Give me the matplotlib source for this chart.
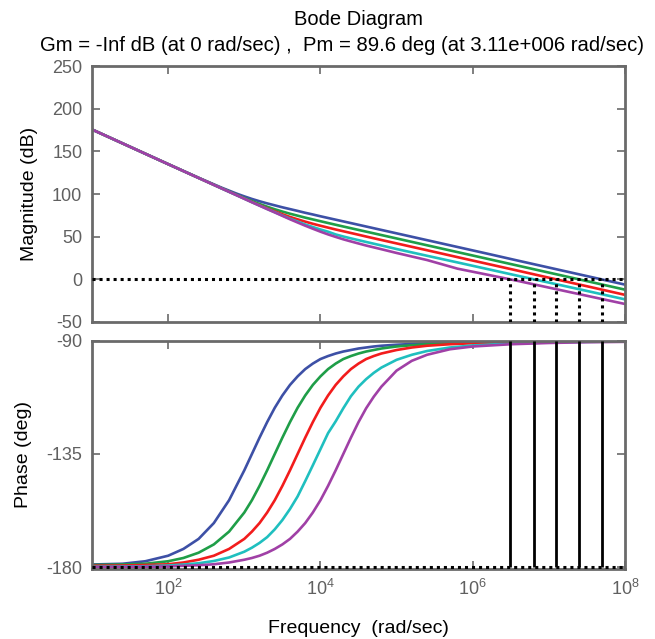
import numpy as np
import matplotlib
matplotlib.use('Agg')
import matplotlib.pyplot as plt
from matplotlib.ticker import FixedLocator, NullLocator

plt.rcParams['font.family'] = ['Liberation Sans', 'DejaVu Sans']
plt.rcParams['mathtext.fontset'] = 'custom'
plt.rcParams['mathtext.rm'] = 'Liberation Sans'
plt.rcParams['mathtext.it'] = 'Liberation Sans:italic'
plt.rcParams['mathtext.bf'] = 'Liberation Sans:bold'
plt.rcParams['axes.unicode_minus'] = False

# ---------------- data ----------------
series_colors = ['#3d50a6', '#1f9e48', '#f21c1c', '#1fbfbf', '#a040a6']

# magnitude: log10(frequency in rad/sec) and dB for each of the 5 curves
mag_logw = [1.0, 1.5, 2.0, 2.4, 2.7, 2.9, 3.0, 3.1, 3.2, 3.3, 3.4, 3.5, 3.6, 3.7, 3.8, 3.9,
            4.0, 4.1, 4.2, 4.3, 4.4, 4.5, 4.6, 4.8, 5.0, 5.4, 5.8, 6.2, 6.6, 7.0, 7.5, 8.0]
mag_blue = [175.6, 155.3, 135.0, 119.0, 107.5, 100.4, 97.2, 94.2, 91.5, 89.0, 86.7, 84.4,
            82.3, 80.2, 78.0, 76.0, 73.9, 71.9, 69.9, 67.9, 65.9, 63.9, 61.9, 57.9, 53.9,
            45.9, 37.9, 29.9, 21.8, 13.8, 3.8, -6.2]
mag_green = [175.6, 155.3, 135.0, 118.9, 106.8, 99.1, 95.3, 91.7, 88.3, 85.1, 82.1, 79.4,
             76.9, 74.6, 72.3, 70.2, 68.1, 66.0, 63.95, 61.9, 59.9, 57.9, 55.9, 51.9, 47.9,
             39.9, 31.9, 23.9, 15.9, 7.9, -2.1, -12.1]
mag_red = [175.6, 155.3, 135.0, 118.8, 106.7, 98.7, 94.7, 90.7, 86.9, 83.2, 79.7, 76.3,
           73.1, 70.3, 67.6, 65.1, 62.8, 60.6, 58.4, 56.35, 54.3, 52.25, 50.15, 46.1, 42.1,
           34.1, 26.0, 18.0, 10.0, 1.9, -8.1, -18.2]
mag_cyan = [175.6, 155.3, 135.0, 118.8, 106.6, 98.5, 94.5, 90.4, 86.5, 82.5, 78.7, 74.8,
            71.1, 67.7, 64.3, 61.3, 58.4, 55.8, 52.6, 50.2, 48.0, 45.9, 43.8, 39.7, 35.5,
            27.6, 19.8, 11.9, 4.0, -3.8, -13.6, -23.5]
mag_magenta = [175.6, 155.3, 135.0, 118.8, 106.6, 98.5, 94.4, 90.3, 86.3, 82.3, 78.4, 74.4,
               70.4, 66.6, 62.85, 59.3, 55.85, 52.65, 49.7, 46.9, 44.4, 42.0, 39.6, 35.3,
               30.9, 22.6, 12.5, 5.3, -2.0, -9.7, -19.3, -28.9]

# phase: log10(frequency in rad/sec) and degrees
ph_logw = [1.0, 1.4, 1.7, 2.0, 2.2, 2.4, 2.6, 2.8, 3.0, 3.1, 3.2, 3.3, 3.4, 3.5, 3.6, 3.7,
           3.8, 3.9, 4.0, 4.1, 4.2, 4.3, 4.4, 4.5, 4.6, 4.7, 4.8, 5.0, 5.2, 5.4, 5.7, 6.0,
           6.5, 7.0, 7.5, 8.0]
ph_blue = [-179.0, -178.7, -177.7, -175.5, -172.8, -168.8, -162.5, -153.4, -141.5, -135.0,
           -128.5, -122.3, -116.6, -111.7, -107.5, -104.1, -101.2, -99.0, -97.2, -96.0,
           -95.0, -94.2, -93.6, -93.0, -92.6, -92.2, -91.9, -91.5, -91.2, -90.9, -90.6,
           -90.45, -90.25, -90.15, -90.1, -90.1]
ph_green = [-179.2, -179.0, -178.7, -177.7, -176.4, -174.3, -171.0, -165.9, -158.3, -153.4,
            -147.7, -141.5, -135.0, -128.5, -122.3, -116.6, -111.7, -107.5, -104.1, -101.2,
            -99.0, -97.2, -96.0, -95.0, -94.2, -93.6, -93.0, -92.2, -91.7, -91.3, -90.9,
            -90.6, -90.35, -90.2, -90.1, -90.1]
ph_red = [-179.5, -179.4, -179.2, -178.9, -178.2, -177.1, -175.5, -172.8, -168.8, -165.9,
          -162.5, -158.3, -153.4, -147.7, -141.5, -135.0, -128.5, -122.3, -116.6, -111.7,
          -107.5, -104.1, -101.2, -99.0, -97.2, -96.0, -95.0, -93.6, -92.6, -91.9, -91.3,
          -90.9, -90.5, -90.3, -90.2, -90.1]
ph_cyan = [-179.9, -179.8, -179.7, -179.4, -179.0, -178.5, -177.6, -176.2, -173.9, -172.3,
           -170.4, -168.1, -165.0, -161.3, -156.9, -151.9, -145.8, -139.5, -133.1, -126.7,
           -122.0, -116.8, -112.0, -108.2, -105.2, -102.7, -100.6, -97.5, -95.5, -94.0,
           -92.6, -91.8, -91.0, -90.6, -90.35, -90.2]
ph_magenta = [-180.0, -179.95, -179.9, -179.8, -179.5, -179.3, -178.9, -178.2, -177.1,
              -176.4, -175.5, -174.3, -172.8, -171.0, -168.8, -165.9, -162.5, -158.3,
              -153.4, -147.7, -141.5, -135.0, -128.5, -122.3, -116.8, -112.2, -108.2,
              -101.8, -97.9, -95.5, -93.3, -92.2, -91.3, -90.8, -90.5, -90.35]

# gain-crossover frequencies (rad/sec) marked by the margin lines
crossover_w = [3.11e6, 6.4e6, 1.245e7, 2.5e7, 4.92e7]

mag_ticks = [-50, 0, 50, 100, 150, 200, 250]
phase_ticks = [-180, -135, -90]
freq_ticks = [1e2, 1e4, 1e6, 1e8]

title_line1 = 'Bode Diagram'
title_line2 = 'Gm = -Inf dB (at 0 rad/sec) ,  Pm = 89.6 deg (at 3.11e+006 rad/sec)'

# ---------------- figure ----------------
fig = plt.figure(figsize=(6.55, 6.39), dpi=100)
ax1 = fig.add_axes([0.1405, 0.4961, 0.8137, 0.4006])
ax2 = fig.add_axes([0.1405, 0.1095, 0.8137, 0.3569])

mags = [mag_blue, mag_green, mag_red, mag_cyan, mag_magenta]
phs = [ph_blue, ph_green, ph_red, ph_cyan, ph_magenta]
w_mag = 10 ** np.array(mag_logw)
w_ph = 10 ** np.array(ph_logw)

for col, m, p in zip(series_colors, mags, phs):
    ax1.plot(w_mag, m, color=col, lw=1.9, solid_joinstyle='round')
    ax2.plot(w_ph, p, color=col, lw=1.9, solid_joinstyle='round')

dot = (0, (1.0, 1.3))
ax1.axhline(0, color='k', lw=2.2, ls=dot, zorder=5)
ax1.vlines(crossover_w, -50, 0, color='k', lw=2.2, linestyles=[dot], zorder=5)
ax2.axhline(-180, color='k', lw=2.2, ls=dot, zorder=5)
ax2.vlines(crossover_w, -180, -90, color='k', lw=2.0, zorder=5)

spine_col = '#6a6a6a'
for ax in (ax1, ax2):
    ax.set_xscale('log')
    ax.set_xlim(10, 1e8)
    ax.xaxis.set_major_locator(FixedLocator(freq_ticks))
    ax.xaxis.set_minor_locator(NullLocator())
    ax.tick_params(direction='in', length=6, width=1.2, top=True, right=True,
                   colors=spine_col, labelsize=13, labelcolor='#606060')
    ax.tick_params(axis='y', pad=7)
    ax.tick_params(axis='x', pad=7)
    for s in ax.spines.values():
        s.set_color(spine_col)
        s.set_linewidth(2)

ax1.set_ylim(-50, 250)
ax1.set_yticks(mag_ticks)
ax1.set_xticklabels([])
ax2.set_ylim(-180.8, -90)
ax2.set_yticks(phase_ticks)

ax1.set_ylabel('Magnitude (dB)', fontsize=14, color='k')
ax1.yaxis.set_label_coords(-0.101, 0.5)
ax2.set_ylabel('Phase (deg)', fontsize=14, color='k')
ax2.yaxis.set_label_coords(-0.113, 0.5)
ax2.set_xlabel('Frequency  (rad/sec)', fontsize=14, color='k')
ax2.xaxis.set_label_coords(0.5, -0.225)

cx = (0.1405 + 0.9542) / 2
fig.text(cx, 0.970, title_line1, ha='center', va='center', fontsize=14.5)
fig.text(40 / 655, 0.929, title_line2, ha='left', va='center', fontsize=14.6)

fig.savefig('out.png', dpi=100)
